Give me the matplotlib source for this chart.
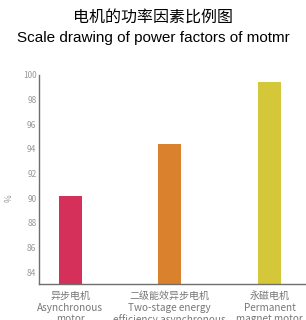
import matplotlib.pyplot as plt
import numpy as np

plt.rcParams['font.family'] = ['Noto Sans CJK SC', 'DejaVu Sans']

categories = ["异步电机\nAsynchronous\nmotor",
              "二级能效异步电机\nTwo-stage energy\nefficiency asynchronous",
              "永磁电机\nPermanent\nmagnet motor"]
values = [90.2, 94.4, 99.4]
colors = ['#D5305A', '#D9812D', '#D4C83A']
y_ticks = [84, 86, 88, 90, 92, 94, 96, 98, 100]

fig = plt.figure(figsize=(3.06, 3.2), dpi=100)
axs = fig.add_axes([0.128, 0.112, 0.87, 0.655])

x = np.arange(len(values))
axs.bar(x, values, width=0.23, color=colors, zorder=2)

axs.set_xlim(-0.31, 2.36)
axs.set_ylim(83.05, 100)
axs.set_yticks(y_ticks)
axs.set_xticks(x)
axs.set_xticklabels(categories, fontsize=7.2, color='#777777', linespacing=1.2)
axs.tick_params(axis='y', labelsize=6, labelcolor='#999999', length=0, pad=2)
axs.tick_params(axis='x', length=0, pad=5)
axs.set_ylabel("%", fontsize=6, color='#999999')
axs.yaxis.set_label_coords(-0.095, 0.41)

axs.spines['right'].set_visible(False)
axs.spines['top'].set_visible(False)
axs.spines['left'].set_color('#6E6E6E')
axs.spines['bottom'].set_color('#6E6E6E')
axs.spines['left'].set_linewidth(1.0)
axs.spines['bottom'].set_linewidth(1.0)

fig.text(0.5, 0.945, "电机的功率因素比例图", ha='center', va='center', fontsize=11.5,
         fontweight='light')
fig.text(0.5, 0.882, "Scale drawing of power factors of motmr", ha='center', va='center',
         fontsize=11, family=['Liberation Sans', 'DejaVu Sans'])

plt.savefig("out.png", dpi=100)
